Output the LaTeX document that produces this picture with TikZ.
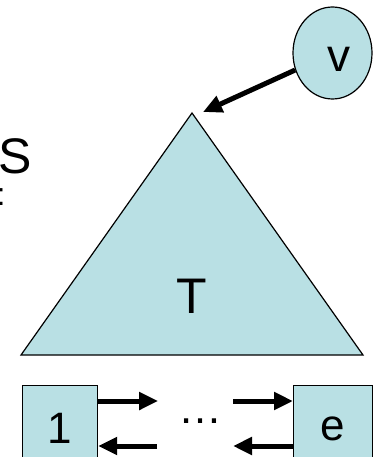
\documentclass[tikz,border=0pt]{standalone}
\usepackage{fontspec}
\setmainfont{Liberation Sans}
\usepackage{tikz}
\usetikzlibrary{arrows.meta,calc,positioning,shapes.geometric}
\definecolor{lightteal}{RGB}{185,224,228}
\tikzstyle{arrow} = [line width=5pt,-{Triangle[length=19pt,width=17pt]}]
\tikzstyle{cell} = [draw,fill=lightteal,line width=1.2pt,anchor=north west,inner sep=0pt,minimum height=86pt]
\tikzstyle{big} = [font=\fontsize{50}{60}\selectfont]
\tikzstyle{mid} = [font=\fontsize{44}{52}\selectfont]
\begin{document}
\begin{tikzpicture}[x=1pt,y=-1pt]
\useasboundingbox (0,0) rectangle (373,457);
\clip (0,0) rectangle (373,457);
\node [big,anchor=base west,inner sep=0pt] (s) at (-1.5,173) {S};
\node [font=\fontsize{32}{36}\selectfont,anchor=base west,inner sep=0pt] (colon) at (-3.5,205) {:};

\draw [fill=lightteal,line width=1.2pt] (192,113) coordinate (apex) -- (363,355) coordinate (right) -- (21,355) coordinate (left) -- cycle;
\node [big] (t) at (192,296) {T};

\node [ellipse,draw,fill=lightteal,line width=1.2pt,minimum width=79pt,minimum height=92pt,inner sep=0pt] (v) at (332.5,53) {};
\node [font=\fontsize{46}{52}\selectfont] (vname) at ($(v.center)+(6.5,6)$) {v};
\draw [arrow] (v) -- ($(apex)+(11,-1)$);

\node [cell,mid,minimum width=75pt] (one) at (22,385) {1};
\node [cell,mid,minimum width=79pt] (e) at (293,385) {e};
\node [mid] (dots) at (200,421) {\dots};

\draw [arrow] ($(one.north east)+(0,16)$) -- +(60,0);
\draw [arrow] ($(one.north east)+(59,61)$) -- ($(one.north east)+(0,61)$);
\draw [arrow] ($(e.north west)+(-60,16)$) -- ($(e.north west)+(0,16)$);
\draw [arrow] ($(e.north west)+(0,61)$) -- +(-60,0);
\end{tikzpicture}
\end{document}
